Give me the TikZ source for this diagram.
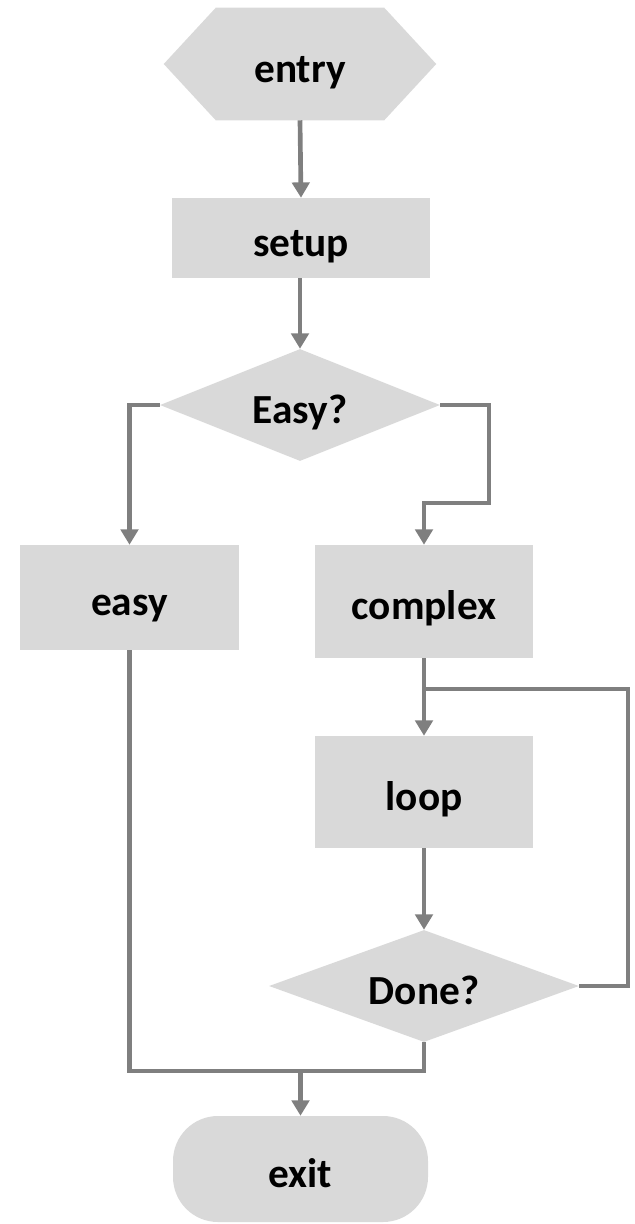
\documentclass[tikz,border=0pt]{standalone}
\usepackage{fontspec}
\setmainfont{Carlito}
\usetikzlibrary{arrows.meta,shapes.geometric,calc}
\definecolor{boxfill}{HTML}{D9D9D9}
\definecolor{linegray}{HTML}{7F7F7F}
\begin{document}
\begin{tikzpicture}[x=0.75pt,y=-0.75pt,
  every node/.style={font=\fontsize{31}{33}\selectfont\bfseries, inner sep=0pt, text=black, text height=27pt, text depth=0pt},
  procbox/.style={rectangle, fill=boxfill, minimum width=#1*0.75pt, minimum height=0.75pt*112},
  decide/.style={diamond, fill=boxfill, aspect=2.6, minimum width=#1*0.75pt, minimum height=0.75pt*112},
  conn/.style={draw=linegray, line width=3.5pt},
  arr/.style={conn, -{Triangle[length=11.5pt,width=13pt]}}]
\useasboundingbox (0,0) rectangle (635,1224);
% entry hexagon
\node[rectangle, minimum width=0.75pt*168, minimum height=0.75pt*112] (entry) at (300,64) {};
\fill[boxfill] (entry.north west) -- (entry.north east) -- ($(entry.east)+(52,0)$) -- (entry.south east) -- (entry.south west) -- ($(entry.west)+(-52,0)$) -- cycle;
\node at (entry.center) {entry};
\node[procbox=258, minimum height=0.75pt*80] (setup) at (301,238) {setup};
\node[decide=280] (easyq) at (300,405) {Easy?};
\node[procbox=219, minimum height=0.75pt*105] (easy) at (129.5,597.5) {easy};
\node[procbox=218, minimum height=0.75pt*113] (complex) at (424,601.5) {complex};
\node[procbox=218] (loop) at (424,792) {loop};
\node[decide=310] (done) at (424,986) {Done?};
\node[rectangle, rounded corners=0.75pt*45, fill=boxfill, minimum width=0.75pt*255, minimum height=0.75pt*106] (exit) at (300.5,1169) {exit};
\coordinate (rb) at (489,503);
\coordinate (lp) at (628,689);
\coordinate (mj) at (300.5,1071);
\draw[arr] (entry.south) -- (setup.north);
\draw[arr] (setup.south -| entry.south) -- (easyq.north);
\draw[arr] (easyq.west) -| (easy.north);
\draw[arr] (easyq.east) -| (rb) -| (complex.north);
\draw[arr] (complex.south) -- (loop.north);
\draw[arr] (loop.south) -- (done.north);
\draw[conn] (done.east) -| (lp) -- (lp -| complex.south);
\draw[conn] (easy.south) |- (done.south |- mj) -- (done.south);
\draw[arr] (mj) -- (exit.north);
\end{tikzpicture}
\end{document}
